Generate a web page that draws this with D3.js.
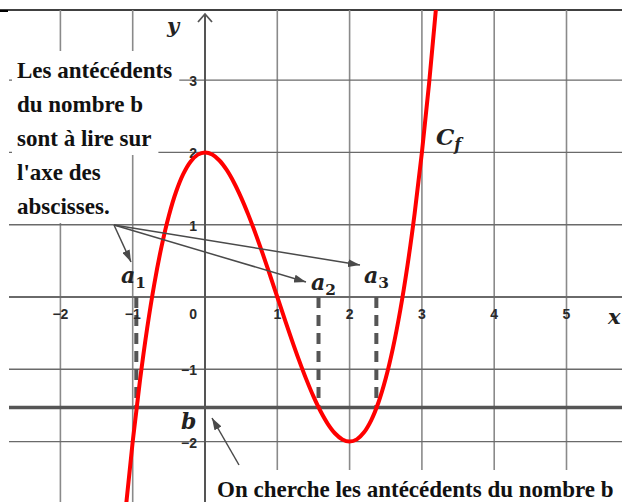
<!DOCTYPE html>
<html><head><meta charset="utf-8">
<script src="https://cdn.jsdelivr.net/npm/d3@7"></script>
<style>body{margin:0;background:#fff}svg{display:block}</style>
</head><body>
<svg id="c" width="622" height="502"></svg>
<script>
// ---- data ----
const curveX = [-1.2,-1.1,-1.0,-0.9,-0.8,-0.7,-0.6,-0.5,-0.4,-0.3,-0.2,-0.1,0,0.1,0.2,0.3,0.4,0.5,0.6,0.7,0.8,0.9,1.0,1.1,1.2,1.3,1.4,1.5,1.6,1.7,1.8,1.9,2.0,2.1,2.2,2.3,2.4,2.5,2.6,2.7,2.8,2.9,3.0,3.1,3.2,3.3];
const curveY = [-4.048,-2.961,-2,-1.159,-0.432,0.187,0.704,1.125,1.456,1.703,1.872,1.969,2,1.971,1.888,1.757,1.584,1.375,1.136,0.873,0.592,0.299,0,-0.299,-0.592,-0.873,-1.136,-1.375,-1.584,-1.757,-1.888,-1.971,-2,-1.969,-1.872,-1.703,-1.456,-1.125,-0.704,-0.187,0.432,1.159,2,2.961,4.048,5.267];
const bValue = -1.53;
const antecedents = [-0.95, 1.57, 2.37];
const antecedentNames = ["1","2","3"];
const xTicks = [-2,-1,0,1,2,3,4,5];
const yTicks = [-2,-1,1,2,3];
const leftText = ["Les antécédents","du nombre b","sont à lire sur","l'axe des","abscisses."];
const bottomText = "On cherche les antécédents du nombre b";

// ---- scales ----
const unit = 72.3;
const x = d3.scaleLinear().domain([0,1]).range([205,205+unit]);
const y = d3.scaleLinear().domain([0,1]).range([297,297-unit]);
const svg = d3.select("#c");
const W = 622, H = 502, TOP = 10;

// clip
svg.append("defs").append("clipPath").attr("id","plot")
  .append("rect").attr("x",0).attr("y",TOP).attr("width",W).attr("height",H-TOP);

// top border
svg.append("line").attr("x1",0).attr("x2",W).attr("y1",TOP).attr("y2",TOP)
  .attr("stroke","#000").attr("stroke-width",1.6);
svg.append("line").attr("x1",0).attr("x2",8).attr("y1",TOP+1).attr("y2",TOP+1)
  .attr("stroke","#000").attr("stroke-width",2);

// grid
const grid = svg.append("g");
const xGrid = d3.range(-2,7);
grid.selectAll("line.v").data(xGrid.filter(d=>d!==0)).join("line")
  .attr("x1",d=>x(d)).attr("x2",d=>x(d)).attr("y1",TOP).attr("y2",H)
  .attr("stroke","#8a8a8a").attr("stroke-width",1.6);
grid.selectAll("line.h").data([-2,-1,1,2,3]).join("line")
  .attr("x1",9).attr("x2",W).attr("y1",d=>y(d)).attr("y2",d=>y(d))
  .attr("stroke","#6a6a6a").attr("stroke-width",1.4);

// axes
svg.append("line").attr("x1",9).attr("x2",W).attr("y1",y(0)).attr("y2",y(0))
  .attr("stroke","#6a6a6a").attr("stroke-width",2.2);
svg.append("line").attr("x1",x(0)).attr("x2",x(0)).attr("y1",14).attr("y2",H)
  .attr("stroke","#555").attr("stroke-width",2);
svg.append("path").attr("d",`M${x(0)-7},${22}L${x(0)},${14}L${x(0)+7},${22}`)
  .attr("fill","none").attr("stroke","#555").attr("stroke-width",1.8);

// b line
svg.append("line").attr("x1",9).attr("x2",W).attr("y1",y(bValue)).attr("y2",y(bValue))
  .attr("stroke","#555").attr("stroke-width",3.5);

// dashed antecedent lines
svg.selectAll("line.dash").data(antecedents).join("line")
  .attr("x1",d=>x(d)).attr("x2",d=>x(d)).attr("y1",y(0)).attr("y2",y(bValue))
  .attr("stroke","#555").attr("stroke-width",4).attr("stroke-dasharray","11,7");

// tick labels
const tickFont = "'Liberation Sans', Arial, sans-serif";
svg.selectAll("text.xt").data(xTicks).join("text")
  .attr("x",d=> d===0 ? x(0)-8 : x(d)).attr("y",y(0)+22)
  .attr("text-anchor",d=> d===0 ? "end":"middle")
  .attr("font-family",tickFont).attr("font-weight","bold").attr("font-size",14).attr("fill","#2a2a2a")
  .text(d=> d<0 ? "\u2212"+(-d) : d);
svg.selectAll("text.yt").data(yTicks).join("text")
  .attr("x",x(0)-8).attr("y",d=>y(d)+6)
  .attr("text-anchor","end")
  .attr("font-family",tickFont).attr("font-weight","bold").attr("font-size",14).attr("fill","#2a2a2a")
  .text(d=> d<0 ? "\u2212"+(-d) : d);

// curve
const pts = curveX.map((v,i)=>[v,curveY[i]]);
svg.append("path").datum(pts).attr("clip-path","url(#plot)")
  .attr("d",d3.line().x(d=>x(d[0])).y(d=>y(d[1])).curve(d3.curveCatmullRom))
  .attr("fill","none").attr("stroke","#ff0000").attr("stroke-width",4);

// arrows
svg.append("defs").append("marker").attr("id","ah").attr("viewBox","0 0 12 8")
  .attr("refX",12).attr("refY",4).attr("markerWidth",12).attr("markerHeight",8)
  .attr("markerUnits","userSpaceOnUse").attr("orient","auto")
  .append("path").attr("d","M0,0L12,4L0,8Z").attr("fill","#4a4a4a");
const arrowStart = [114,225];
const arrowEnds = [[131,262],[306,282],[360,265]];
svg.selectAll("line.ar").data(arrowEnds).join("line")
  .attr("x1",arrowStart[0]).attr("y1",arrowStart[1]).attr("x2",d=>d[0]).attr("y2",d=>d[1])
  .attr("stroke","#4a4a4a").attr("stroke-width",1.5).attr("marker-end","url(#ah)");
svg.append("line").attr("x1",239).attr("y1",465).attr("x2",212).attr("y2",418)
  .attr("stroke","#4a4a4a").attr("stroke-width",1.5).attr("marker-end","url(#ah)");

// text boxes
const serif = "'Liberation Serif','Times New Roman',serif";
const tg = svg.append("g");
leftText.forEach((t,i)=>{
  const g = tg.append("g");
  const rect = g.append("rect").attr("fill","#fff");
  const txt = g.append("text").attr("x",17).attr("y",78+i*34)
    .attr("font-family",serif).attr("font-weight","bold").attr("font-size",23).attr("fill","#111").text(t);
  const bb = txt.node().getBBox();
  rect.attr("x",12).attr("y",78+i*34-27).attr("width",bb.x+bb.width-12+7).attr("height",36);
});
{
  const g = svg.append("g");
  const rect = g.append("rect").attr("fill","#fff");
  g.append("text").attr("x",217).attr("y",497)
    .attr("font-family",serif).attr("font-weight","bold").attr("font-size",23).attr("fill","#111").text(bottomText);
  rect.attr("x",211).attr("y",470).attr("width",W-211).attr("height",H-470);
}

// math labels
const math = "'DejaVu Serif','Liberation Serif',serif";
function mlabel(px,py,main,sub,size,subItalic){
  const t = svg.append("text").attr("x",px).attr("y",py)
    .attr("font-family",math).attr("font-style","italic").attr("font-weight","bold")
    .attr("font-size",size).attr("fill","#222");
  t.append("tspan").text(main);
  if(sub) t.append("tspan").attr("dy",5).attr("font-size",size*0.7)
    .attr("font-style",subItalic?"italic":"normal").text(sub);
  return t;
}
mlabel(167,33,"y",null,21);
mlabel(608,324,"x",null,21);
const aY = [283,290,283];
const aX = [121,311,364];
antecedents.forEach((a,i)=>mlabel(aX[i],aY[i],"a",antecedentNames[i],22,false));
mlabel(436,145,"C","f",23,true);
mlabel(181,429,"b",null,22);
</script>
</body></html>
